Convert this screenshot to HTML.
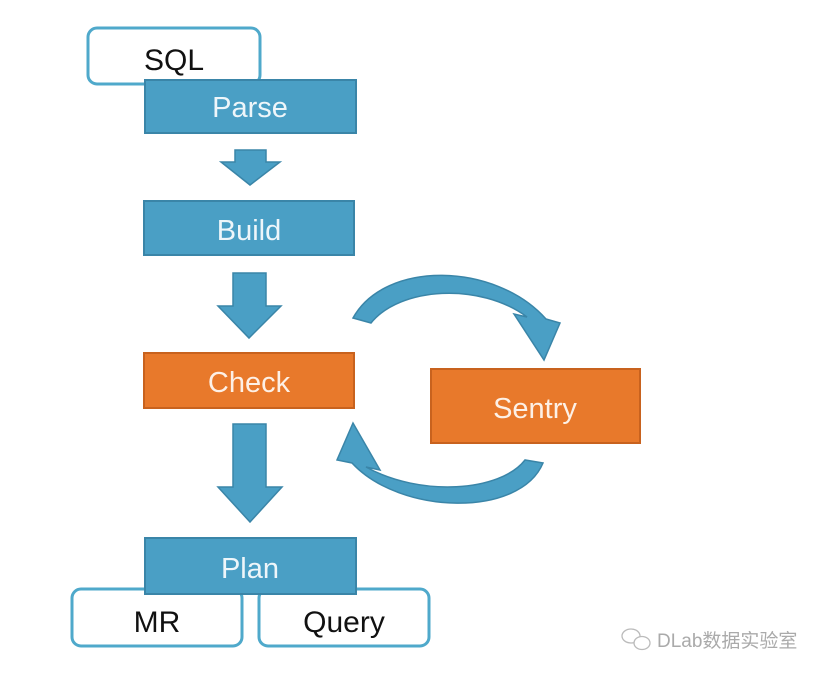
<!DOCTYPE html>
<html><head><meta charset="utf-8"><style>
html,body{margin:0;padding:0;background:#fff;}
svg{display:block;}
text{font-family:"Liberation Sans","Noto Sans CJK SC",sans-serif;}
</style></head><body>
<svg width="832" height="676" viewBox="0 0 832 676" xmlns="http://www.w3.org/2000/svg">
<rect x="88" y="28" width="172" height="56" rx="9" fill="#fff" stroke="#4fa9cb" stroke-width="3"/>
<text x="174" y="70" font-size="30" text-anchor="middle" fill="#111">SQL</text>
<rect x="145" y="80" width="211" height="53" fill="#4a9fc5" stroke="#3a85a8" stroke-width="2"/>
<text x="250" y="117" font-size="29" text-anchor="middle" fill="#eef6fa">Parse</text>
<polygon points="235,150 266,150 266,162 280,162 250,185 221,162 235,162" fill="#4a9fc5" stroke="#3a85a8" stroke-width="1.5"/>
<rect x="144" y="201" width="210" height="54" fill="#4a9fc5" stroke="#3a85a8" stroke-width="2"/>
<text x="249" y="240" font-size="29" text-anchor="middle" fill="#eef6fa">Build</text>
<polygon points="233,273 266,273 266,306 281,306 249,338 218,306 233,306" fill="#4a9fc5" stroke="#3a85a8" stroke-width="1.5"/>
<rect x="144" y="353" width="210" height="55" fill="#e8792b" stroke="#c8621e" stroke-width="2"/>
<text x="249" y="392" font-size="29" text-anchor="middle" fill="#fdf0e6">Check</text>
<polygon points="233,424 266,424 266,487 282,487 250,522 218,487 233,487" fill="#4a9fc5" stroke="#3a85a8" stroke-width="1.5"/>
<rect x="431" y="369" width="209" height="74" fill="#e8792b" stroke="#c8621e" stroke-width="2"/>
<text x="535" y="418" font-size="29" text-anchor="middle" fill="#fdf0e6">Sentry</text>
<path d="M353,318 C385,260 495,262 546,319 L560,323 L544,360 L514,314 L527,317 C480,282 400,287 371,323 Z" fill="#4a9fc5" stroke="#3a85a8" stroke-width="1.5"/>
<path d="M543,463 C520,518 400,515 352,463 L337,460 L353,423 L380,470 L366,467 C420,497 500,492 525,460 Z" fill="#4a9fc5" stroke="#3a85a8" stroke-width="1.5"/>
<rect x="72" y="589" width="170" height="57" rx="9" fill="#fff" stroke="#4fa9cb" stroke-width="3"/>
<text x="157" y="632" font-size="30" text-anchor="middle" fill="#111">MR</text>
<rect x="259" y="589" width="170" height="57" rx="9" fill="#fff" stroke="#4fa9cb" stroke-width="3"/>
<text x="344" y="632" font-size="30" text-anchor="middle" fill="#111">Query</text>
<rect x="145" y="538" width="211" height="56" fill="#4a9fc5" stroke="#3a85a8" stroke-width="2"/>
<text x="250" y="578" font-size="29" text-anchor="middle" fill="#eef6fa">Plan</text>
<g fill="none" stroke="#bbb" stroke-width="1.3">
<ellipse cx="631" cy="636" rx="9" ry="7"/>
<ellipse cx="642" cy="643" rx="8" ry="6.5" fill="#fff"/>
</g>
<text x="657" y="647" font-size="19" fill="#aaa">DLab数据实验室</text>
</svg>
</body></html>
